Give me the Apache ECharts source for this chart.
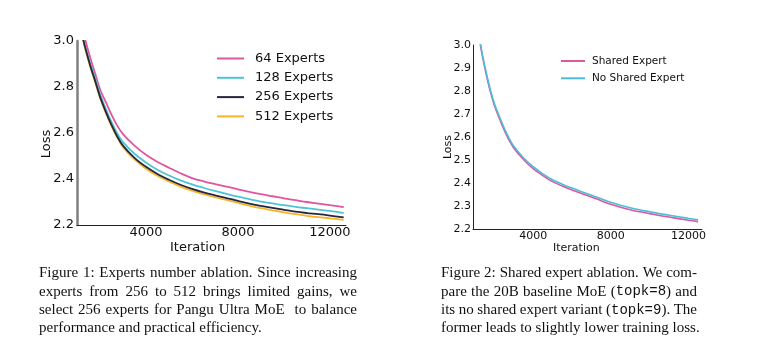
<!DOCTYPE html>
<html>
<head>
<meta charset="utf-8">
<script src="https://cdn.jsdelivr.net/npm/echarts@6/dist/echarts.min.js"></script>
<style>
html,body{margin:0;padding:0;background:#fff;}
#c{width:760px;height:359px;}
</style>
</head>
<body>
<div id="c"></div>
<script>
// ---- Figure 1 data ----
const itersL = [1200,1400,1600,1800,2000,2250,2500,2750,3000,3500,4000,4500,5000,5500,6000,6500,7000,7500,8000,8500,9000,9500,10000,10500,11000,11500,12000,12600];
const loss64  = [3.08,2.99,2.92,2.855,2.79,2.735,2.68,2.632,2.595,2.545,2.505,2.474,2.449,2.425,2.404,2.39,2.378,2.367,2.355,2.344,2.334,2.325,2.316,2.308,2.300,2.293,2.286,2.278];
const loss128 = [3.04,2.96,2.895,2.835,2.77,2.705,2.648,2.598,2.56,2.51,2.472,2.44,2.415,2.394,2.377,2.362,2.348,2.335,2.323,2.312,2.302,2.294,2.286,2.279,2.273,2.267,2.261,2.252];
const loss256 = [3.035,2.955,2.885,2.823,2.758,2.693,2.635,2.585,2.545,2.492,2.453,2.422,2.397,2.375,2.357,2.342,2.329,2.317,2.305,2.293,2.283,2.274,2.266,2.258,2.252,2.247,2.241,2.233];
const loss512 = [3.03,2.95,2.88,2.818,2.753,2.688,2.63,2.58,2.538,2.485,2.445,2.414,2.389,2.367,2.349,2.334,2.321,2.309,2.296,2.284,2.273,2.264,2.255,2.247,2.240,2.234,2.229,2.222];
const namesL = ['64 Experts','128 Experts','256 Experts','512 Experts'];
// ---- Figure 2 data ----
const itersR = [1200,1400,1600,1800,2000,2250,2500,2750,3000,3500,4000,4500,5000,5500,6000,6500,7000,7500,8000,8500,9000,9500,10000,10500,11000,11500,12000,12500];
const lossShared   = [3.04,2.945,2.865,2.795,2.738,2.683,2.632,2.588,2.552,2.502,2.462,2.432,2.406,2.387,2.370,2.354,2.339,2.323,2.308,2.295,2.284,2.275,2.267,2.259,2.252,2.245,2.238,2.232];
const lossNoShared = [3.045,2.952,2.873,2.803,2.746,2.691,2.640,2.596,2.560,2.510,2.471,2.440,2.414,2.395,2.378,2.362,2.347,2.331,2.316,2.303,2.292,2.283,2.275,2.267,2.260,2.253,2.246,2.240];
const namesR = ['Shared Expert','No Shared Expert'];
// ---- ticks ----
const xTicks = [4000, 8000, 12000];
// ---- captions ----
const capLLines = [
  'Figure 1: Experts number ablation. Since increasing',
  'experts from 256 to 512 brings limited gains, we',
  'select 256 experts for Pangu Ultra MoE  to balance',
  'performance and practical efficiency.'
];
const capRLines = [
  'Figure 2: Shared expert ablation. We com-',
  'pare the 20B baseline MoE ({m|topk=8}) and',
  'its no shared expert variant ({m|topk=9}). The',
  'former leads to slightly lower training loss.'
];

const colorsL = ['#e0559c','#4fc3d6','#262640','#f6b629'];
const colorsR = ['#d9589e','#4bbcd9'];
const fmt = v => v.toFixed(1);
const plain = v => String(v);
const pairs = (xs, ys) => xs.map((x,i)=>[x, ys[i]]);
const sans = 'DejaVu Sans';

// ---- justified caption layout ----
const CAP_FS = 15, CAP_MONO_FS = 14, CAP_SX = 1, CAP_LH = 18.2;
const mctx = document.createElement('canvas').getContext('2d');
function segs(word){
  const out = []; const re = /\{m\|([^}]*)\}/g; let last = 0, m;
  while ((m = re.exec(word))) {
    if (m.index > last) out.push({t: word.slice(last, m.index), mono:false});
    out.push({t: m[1], mono:true}); last = re.lastIndex;
  }
  if (last < word.length) out.push({t: word.slice(last), mono:false});
  return out;
}
function fontOf(mono){ return mono ? CAP_MONO_FS + 'px "Liberation Mono"' : CAP_FS + 'px "Liberation Serif"'; }
function mw(t, mono){ mctx.font = fontOf(mono); return mctx.measureText(t).width; }
function captionGraphics(lines, x0, x1, yCenter1){
  const els = [];
  const spaceW = mw(' ', false) * CAP_SX;
  lines.forEach((line, li) => {
    const words = line.split(' ');
    const wsegs = words.map(segs);
    const wW = wsegs.map(ss => ss.reduce((a,s)=>a + mw(s.t, s.mono), 0) * CAP_SX);
    const total = wW.reduce((a,b)=>a+b, 0);
    const nG = words.length - 1;
    const last = li === lines.length - 1;
    const gap = (!last && nG > 0) ? Math.max(spaceW * 0.8, (x1 - x0 - total) / nG) : spaceW;
    let x = x0; const y = yCenter1 + li * CAP_LH;
    wsegs.forEach((ss) => {
      ss.forEach(s => {
        els.push({type:'text', x:x, y:y, scaleX:CAP_SX, silent:true,
          style:{text:s.t, font:fontOf(s.mono), fill:'#111', verticalAlign:'middle', align:'left'}});
        x += mw(s.t, s.mono) * CAP_SX;
      });
      x += gap;
    });
  });
  return els;
}

const chart = echarts.init(document.getElementById('c'), null, {renderer:'canvas'});

chart.setOption({
  backgroundColor:'#fff',
  animation:false,
  grid:[
    {left:77, top:41, width:269, height:184},
    {left:473, top:45, width:229, height:184}
  ],
  xAxis:[
    {gridIndex:0, type:'value', min:1000, max:12700,
     axisLine:{show:true, lineStyle:{color:'#222', width:1}},
     axisTick:{show:false}, splitLine:{show:false},
     axisLabel:{customValues:xTicks, formatter:plain, color:'#111', fontFamily:sans, fontSize:13, margin:1}},
    {gridIndex:1, type:'value', min:900, max:12700,
     axisLine:{show:true, lineStyle:{color:'#222', width:1}},
     axisTick:{show:false}, splitLine:{show:false},
     axisLabel:{customValues:xTicks, formatter:plain, color:'#111', fontFamily:sans, fontSize:11, margin:2}}
  ],
  yAxis:[
    {gridIndex:0, type:'value', min:2.2, max:3.0, interval:0.2,
     axisLine:{show:true, lineStyle:{color:'#808080', width:2.5}},
     axisTick:{show:false}, splitLine:{show:false},
     axisLabel:{formatter:fmt, color:'#111', fontFamily:sans, fontSize:13, margin:3}},
    {gridIndex:1, type:'value', min:2.2, max:3.0, interval:0.1,
     axisLine:{show:true, lineStyle:{color:'#222', width:1}},
     axisTick:{show:false}, splitLine:{show:false},
     axisLabel:{formatter:fmt, color:'#111', fontFamily:sans, fontSize:11, margin:2}}
  ],
  legend:[
    {data:namesL, orient:'vertical', left:212, top:45.5, icon:'rect', itemWidth:27, itemHeight:2, itemGap:3.3,
     textStyle:{fontFamily:sans, fontSize:13, color:'#111', lineHeight:16, padding:[0,0,0,6]}},
    {data:namesR, orient:'vertical', left:556, top:49, icon:'rect', itemWidth:24, itemHeight:2, itemGap:3.3,
     textStyle:{fontFamily:sans, fontSize:10.5, color:'#111', lineHeight:14, padding:[0,0,0,2]}}
  ],
  series:[
    {name:namesL[0], type:'line', xAxisIndex:0, yAxisIndex:0, data:pairs(itersL, loss64), symbol:'none', smooth:0.35, color:colorsL[0], lineStyle:{width:1.8}, z:2},
    {name:namesL[1], type:'line', xAxisIndex:0, yAxisIndex:0, data:pairs(itersL, loss128), symbol:'none', smooth:0.35, color:colorsL[1], lineStyle:{width:1.8}, z:3},
    {name:namesL[3], type:'line', xAxisIndex:0, yAxisIndex:0, data:pairs(itersL, loss512), symbol:'none', smooth:0.35, color:colorsL[3], lineStyle:{width:1.8}, z:4},
    {name:namesL[2], type:'line', xAxisIndex:0, yAxisIndex:0, data:pairs(itersL, loss256), symbol:'none', smooth:0.35, color:colorsL[2], lineStyle:{width:1.8}, z:5},
    {name:namesR[0], type:'line', xAxisIndex:1, yAxisIndex:1, data:pairs(itersR, lossShared), symbol:'none', smooth:0.35, color:colorsR[0], lineStyle:{width:1.6}, z:3},
    {name:namesR[1], type:'line', xAxisIndex:1, yAxisIndex:1, data:pairs(itersR, lossNoShared), symbol:'none', smooth:0.35, color:colorsR[1], lineStyle:{width:1.6}, z:4}
  ],
  graphic:[
    {type:'text', left:170, top:241.5, style:{text:'Iteration', font:'13px "DejaVu Sans"', fill:'#111'}},
    {type:'text', x:47, y:144, rotation:Math.PI/2, style:{text:'Loss', font:'13px "DejaVu Sans"', fill:'#111', align:'center', verticalAlign:'middle'}},
    {type:'text', left:553, top:242.5, style:{text:'Iteration', font:'11px "DejaVu Sans"', fill:'#111'}},
    {type:'text', x:448, y:147, rotation:Math.PI/2, style:{text:'Loss', font:'11px "DejaVu Sans"', fill:'#111', align:'center', verticalAlign:'middle'}}
  ].concat(captionGraphics(capLLines, 39, 357, 273.5))
   .concat(captionGraphics(capRLines, 441, 697, 273.5))
});
</script>
</body>
</html>
